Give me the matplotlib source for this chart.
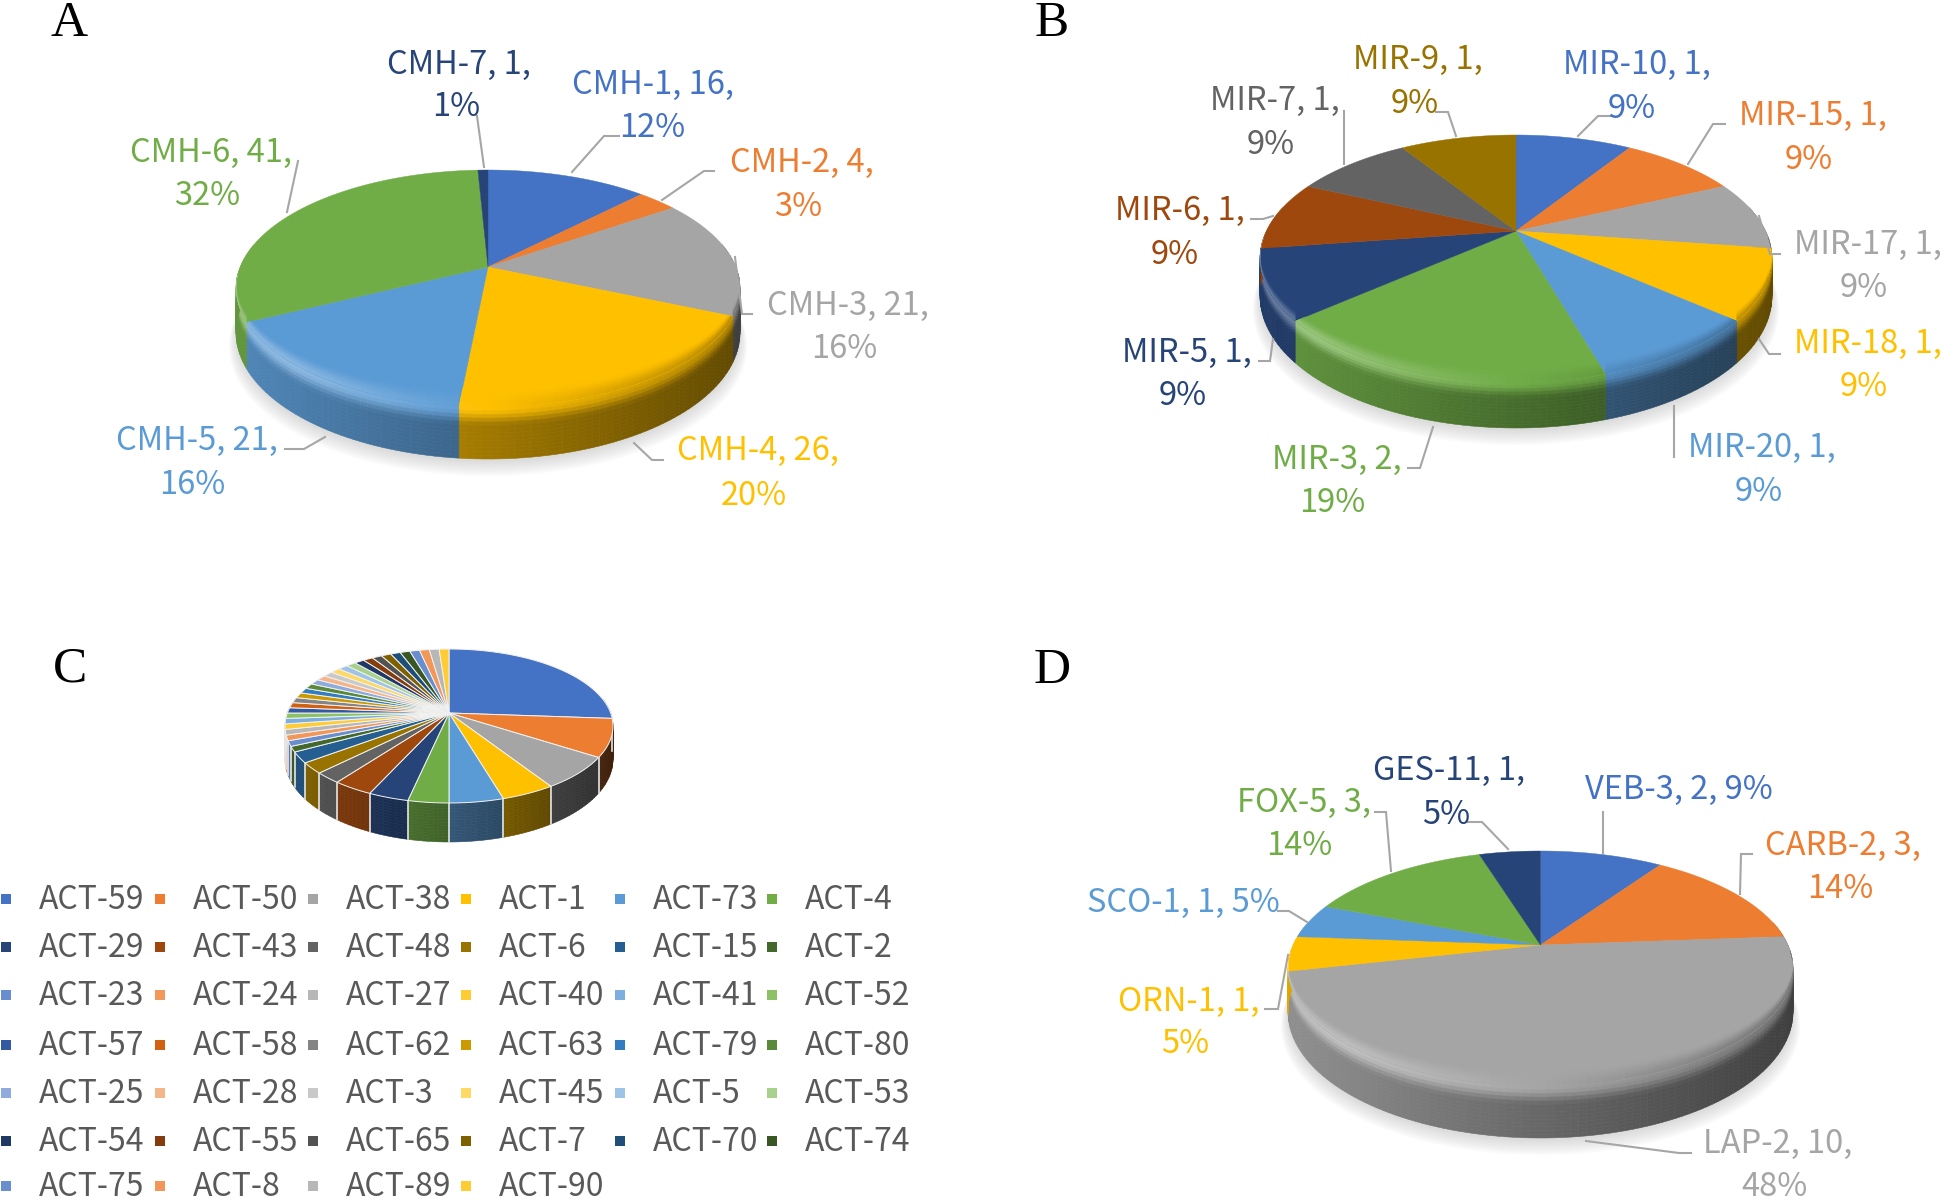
import numpy as np
import matplotlib
matplotlib.use("Agg")
import matplotlib.pyplot as plt
from matplotlib.collections import PolyCollection
from matplotlib.colors import to_rgb

plt.rcParams["font.family"] = ["Noto Sans CJK SC", "DejaVu Sans"]

# data
cmhNames = ["CMH-1", "CMH-2", "CMH-3", "CMH-4", "CMH-5", "CMH-6", "CMH-7"]
cmhVals = [16, 4, 21, 26, 21, 41, 1]
cmhPct = [12, 3, 16, 20, 16, 32, 1]

mirNames = ["MIR-10", "MIR-15", "MIR-17", "MIR-18", "MIR-20", "MIR-3", "MIR-5", "MIR-6", "MIR-7", "MIR-9"]
mirVals = [1, 1, 1, 1, 1, 2, 1, 1, 1, 1]
mirPct = [9, 9, 9, 9, 9, 19, 9, 9, 9, 9]

actNames = ["ACT-59", "ACT-50", "ACT-38", "ACT-1", "ACT-73", "ACT-4",
            "ACT-29", "ACT-43", "ACT-48", "ACT-6", "ACT-15", "ACT-2",
            "ACT-23", "ACT-24", "ACT-27", "ACT-40", "ACT-41", "ACT-52",
            "ACT-57", "ACT-58", "ACT-62", "ACT-63", "ACT-79", "ACT-80",
            "ACT-25", "ACT-28", "ACT-3", "ACT-45", "ACT-5", "ACT-53",
            "ACT-54", "ACT-55", "ACT-65", "ACT-7", "ACT-70", "ACT-74",
            "ACT-75", "ACT-8", "ACT-89", "ACT-90"]
actVals = [23, 7, 6, 4, 4, 3,
           3, 3, 2, 2, 2, 1,
           1, 1, 1, 1, 1, 1,
           1, 1, 1, 1, 1, 1,
           1, 1, 1, 1, 1, 1,
           1, 1, 1, 1, 1, 1,
           1, 1, 1, 1]

lacNames = ["VEB-3", "CARB-2", "LAP-2", "ORN-1", "SCO-1", "FOX-5", "GES-11"]
lacVals = [2, 3, 10, 1, 1, 3, 1]
lacPct = [9, 14, 48, 5, 5, 14, 5]

palette = ["#4472C4", "#ED7D31", "#A5A5A5", "#FFC000", "#5B9BD5", "#70AD47",
           "#264478", "#9E480E", "#636363", "#997300", "#255E91", "#43682B",
           "#698ED0", "#F1975A", "#B7B7B7", "#FFCD33", "#7CAFDD", "#8CC168",
           "#335AA1", "#D26012", "#848484", "#CC9A00", "#327DC2", "#5A8A39",
           "#8FAADC", "#F5B58A", "#C9C9C9", "#FFD966", "#9DC3E6", "#A9D18E",
           "#203864", "#843C0C", "#525252", "#7F6000", "#1F4E79", "#385723",
           "#698ED0", "#F1975A", "#B7B7B7", "#FFCD33"]

W, H = 1944, 1204
fig = plt.figure(figsize=(W / 100, H / 100), dpi=100)
ax = fig.add_axes([0, 0, 1, 1])
ax.set_xlim(0, W)
ax.set_ylim(H, 0)
ax.axis("off")


def make_proj(cx, ay, a, bTop, bBot):
    k = (bBot - bTop) / (bBot + bTop)
    bb = bTop * (1 + k)
    aa = a * np.sqrt(1 - k ** 2)

    def proj(theta, t=0.0, depth=0.0):
        th = np.radians(theta)
        u, v = np.sin(th), np.cos(th)
        w = 1 + k * v
        return cx + aa * u / w, ay - bb * v / w + t * depth * (1 - k) / w
    return proj


def smooth(s):
    s = min(max(s, 0.0), 1.0)
    return s * s * (3 - 2 * s)


def wall_color(base, u, t, flat):
    if flat:
        return base * np.clip(0.56 - 0.3 * u, 0.25, 0.9)
    wall = base * (0.625 - 0.245 * u)
    if u < 0:
        rim = base + (1 - base) * min(-u * 1.3, 1.0) * 0.3
    else:
        rim = base * (1 - 0.3 * u)
    if t < 0:
        s = smooth((t + 0.35) / 0.35)
        return base * (1 - s) + rim * s
    s = smooth(t / 0.35)
    return rim * (1 - s) + wall * s


def quads(proj, th, t0, t1, depth):
    xa, ya = proj(th[0], t0, depth)
    xb, yb = proj(th[1], t0, depth)
    xc, yc = proj(th[1], t1, depth)
    xd, yd = proj(th[0], t1, depth)
    return [(xa, ya), (xb, yb), (xc, yc), (xd, yd)]


def draw_pie(vals, cx, ay, a, bTop, bBot, depth, flat=False):
    proj = make_proj(cx, ay, a, bTop, bBot)
    edges = np.concatenate([[0], np.cumsum(vals)]) / np.sum(vals) * 360
    cols = palette[:len(vals)]

    # soft shadow under the disc
    if not flat:
        ths = np.linspace(0, 360, 180)
        for g in range(8):
            x, y = proj(ths, 1.0, depth + 3 + g * 2)
            x = cx + (x - cx) * (1 + g * 0.004)
            ax.fill(x, y, color="#808080", alpha=0.035, lw=0, zorder=1)

    # side wall, split in small quads so it can carry the shading
    polys, fcs = [], []
    ts = np.linspace(0, 1, 15)
    for i, c in enumerate(cols):
        base = np.array(to_rgb(c))
        n = max(int((edges[i + 1] - edges[i]) / 1.5), 1)
        th = np.linspace(edges[i], edges[i + 1], n + 1)
        for j in range(n):
            mid = (th[j] + th[j + 1]) / 2
            if np.cos(np.radians(mid)) > 0.2:
                continue
            x0, _ = proj(mid)
            u = (x0 - cx) / a
            for m in range(len(ts) - 1):
                polys.append(quads(proj, th[j:j + 2], ts[m], ts[m + 1], depth))
                fcs.append(np.clip(wall_color(base, u, ts[m], flat), 0, 1))
    ax.add_collection(PolyCollection(polys, facecolors=fcs, edgecolors=fcs, linewidths=0.4, zorder=2))

    if flat:
        for e in edges:
            if np.cos(np.radians(e)) < 0.1:
                x, y = proj(e)
                x2, y2 = proj(e, 1.0, depth)
                ax.plot([x, x2], [y, y2], color="#e6e6e6", lw=1.2, zorder=3)

    # top face, then the bevel band clipped to each slice
    for i, c in enumerate(cols):
        th = np.linspace(edges[i], edges[i + 1], max(int(edges[i + 1] - edges[i]), 2) + 1)
        x, y = proj(th)
        xs = np.concatenate([[cx], x])
        ys = np.concatenate([[ay], y])
        if flat:
            ax.fill(xs, ys, facecolor=c, edgecolor="#f2f2f2", lw=0.7, zorder=4)
            continue
        face = ax.fill(xs, ys, facecolor=c, edgecolor=c, lw=0.3, zorder=4)[0]
        base = np.array(to_rgb(c))
        n = max(int((edges[i + 1] - edges[i]) / 1.5), 1)
        th = np.linspace(edges[i], edges[i + 1], n + 1)
        polys, fcs = [], []
        for j in range(n):
            mid = (th[j] + th[j + 1]) / 2
            vv = -np.cos(np.radians(mid))
            if vv <= 0.05:
                continue
            x0, _ = proj(mid)
            u = (x0 - cx) / a
            lift = np.sqrt(vv)
            qs = np.linspace(-0.35, 0, 11)
            for m in range(len(qs) - 1):
                polys.append(quads(proj, th[j:j + 2], qs[m] * lift, qs[m + 1] * lift, depth))
                fcs.append(np.clip(wall_color(base, u, qs[m], flat), 0, 1))
        if polys:
            band = PolyCollection(polys, facecolors=fcs, edgecolors=fcs, linewidths=0.3, zorder=4.5)
            ax.add_collection(band)
            band.set_clip_path(face)


draw_pie(cmhVals, 488, 267, 252, 97, 140, 52)
draw_pie(mirVals, 1516, 231, 256, 96, 151, 46)
draw_pie(actVals, 449, 713, 164, 64, 90, 39, flat=True)
draw_pie(lacVals, 1540.5, 945, 252.5, 94, 141, 52)

# panel letters
for letter, x, y in [("A", 69, 36), ("B", 1052, 36), ("C", 70, 681), ("D", 1052, 683)]:
    ax.text(x, y, letter, family=["Liberation Serif"], fontsize=37, ha="center", va="baseline", color="black", zorder=6)

labelSize = 23.5


def put_labels(names, vals, pcts, cols, linePos, pctPos):
    for i, name in enumerate(names):
        tx = f"{name}, {vals[i]},"
        if pctPos[i] is None:
            tx = f"{tx} {pcts[i]}%"
        else:
            ax.text(pctPos[i][0], pctPos[i][1] + 1, f"{pcts[i]}%", color=cols[i], fontsize=labelSize,
                    ha="center", va="center", zorder=6)
        ax.text(linePos[i][0], linePos[i][1] + 1, tx, color=cols[i], fontsize=labelSize,
                ha="center", va="center", zorder=6)


def put_leaders(lines):
    for ln in lines:
        xs, ys = zip(*ln)
        ax.plot(xs, ys, color="#a6a6a6", lw=1.5, zorder=5, solid_joinstyle="miter")


put_labels(cmhNames, cmhVals, cmhPct, palette,
           [(653, 84), (802, 162), (848, 305), (758, 450), (197, 440), (211, 152), (459, 64)],
           [(652, 127), (798, 206), (844, 348), (754, 495), (192, 484), (207, 195), (456, 106)])
put_leaders([[(619, 136), (604, 136), (572, 172)],
             [(714, 171), (704, 171), (662, 200)],
             [(735, 257), (742, 314), (752, 314)],
             [(634, 443), (652, 460), (663, 460)],
             [(285, 449), (304, 449), (325, 437)],
             [(298, 161), (287, 212)],
             [(477, 116), (484, 167)]])

put_labels(mirNames, mirVals, mirPct, palette,
           [(1637, 64), (1813, 115), (1868, 244), (1868, 343), (1762, 447),
            (1337, 459), (1187, 352), (1180, 210), (1275, 100), (1418, 59)],
           [(1632, 108), (1809, 159), (1864, 287), (1864, 386), (1759, 491),
            (1332, 502), (1183, 395), (1175, 254), (1271, 144), (1415, 103)])
put_leaders([[(1611, 116), (1598, 116), (1578, 136)],
             [(1725, 124), (1713, 124), (1688, 164)],
             [(1759, 216), (1770, 254), (1780, 254)],
             [(1759, 339), (1769, 354), (1780, 354)],
             [(1674, 406), (1674, 457)],
             [(1433, 427), (1420, 468), (1408, 468)],
             [(1273, 339), (1270, 361), (1259, 361)],
             [(1273, 216), (1263, 219), (1251, 219)],
             [(1344, 111), (1344, 164)],
             [(1436, 112), (1448, 112), (1456, 136)]])

put_labels(lacNames, lacVals, lacPct, palette,
           [(1679, 789), (1843, 845), (1778, 1143), (1189, 1001), (1183, 902), (1304, 802), (1449, 770)],
           [None, (1840, 888), (1774, 1186), (1185, 1043), None, (1299, 845), (1446, 814)])
put_leaders([[(1603, 812), (1603, 853)],
             [(1752, 854), (1741, 854), (1740, 894)],
             [(1586, 1141), (1679, 1153), (1691, 1153)],
             [(1288, 955), (1278, 1009), (1265, 1009)],
             [(1278, 911), (1289, 911), (1307, 922)],
             [(1375, 812), (1386, 812), (1391, 871)],
             [(1468, 822), (1482, 822), (1508, 849)]])

# legend of panel C, six columns
colX = [6, 160, 313, 466, 620, 772]
rowY = [900, 948, 996, 1046, 1094, 1142, 1187]
for i, name in enumerate(actNames):
    r, c = divmod(i, 6)
    ax.scatter([colX[c]], [rowY[r] - 1], marker="s", s=57, color=palette[i], lw=0, zorder=5)
    ax.text(colX[c] + 33, rowY[r], name, color="#595959", fontsize=23, fontweight=300,
            ha="left", va="center", zorder=5)

fig.savefig("out.png", dpi=100)
